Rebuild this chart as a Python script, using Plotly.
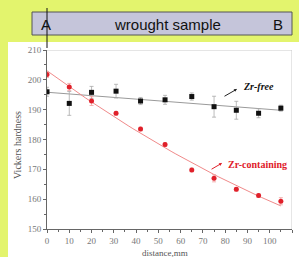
import plotly.graph_objects as go
import numpy as np

# Data
x_free = [0, 10, 20, 31, 42, 53, 65, 75, 85, 95, 105]
y_free = [196.0, 192.1, 195.8, 196.2, 192.9, 193.3, 194.4, 191.0, 189.8, 188.8, 190.5]
e_free = [1.5, 4.0, 2.0, 2.3, 1.2, 1.5, 1.2, 3.5, 3.0, 1.5, 1.0]
x_zr = [0, 10, 20, 31, 42, 53, 65, 75, 85, 95, 105]
y_zr = [201.8, 197.6, 192.9, 188.8, 183.5, 178.3, 169.8, 167.0, 163.3, 161.2, 159.3]
e_zr = [1.0, 1.2, 1.5, 0.6, 0.6, 0.6, 0.6, 1.2, 0.6, 0.6, 1.2]

W, H = 299, 257
L, R, T, B = 47, 7, 50, 28
PW, PH = W - L - R, H - T - B

def px(x):
    return (x - L) / PW

def py(y):
    return (H - B - y) / PH

fx = np.linspace(0, 105, 50)
free_fit = np.polyval(np.polyfit(x_free, y_free, 1), fx)
zr_fit = np.polyval(np.polyfit(x_zr, y_zr, 2), fx)

fig = go.Figure()
fig.add_trace(go.Scatter(x=fx, y=free_fit, mode="lines",
                         line=dict(color="#9a9a9a", width=1), hoverinfo="skip"))
fig.add_trace(go.Scatter(x=fx, y=zr_fit, mode="lines",
                         line=dict(color="#f08a8a", width=1), hoverinfo="skip"))
fig.add_trace(go.Scatter(x=x_free, y=y_free, mode="markers",
                         marker=dict(symbol="square", size=5, color="#111111"),
                         error_y=dict(type="data", array=e_free, color="#aaaaaa",
                                      thickness=0.8, width=2)))
fig.add_trace(go.Scatter(x=x_zr, y=y_zr, mode="markers",
                         marker=dict(symbol="circle", size=5, color="#e0202a"),
                         error_y=dict(type="data", array=e_zr, color="#f0a0a0",
                                      thickness=0.8, width=2)))

shapes = [
    dict(type="rect", xref="paper", yref="paper", x0=px(8), x1=px(299), y0=py(42), y1=py(257),
         fillcolor="white", line=dict(width=0), layer="below"),
    dict(type="rect", xref="paper", yref="paper", x0=px(32), x1=px(292), y0=py(35), y1=py(12),
         fillcolor="#c5c5da", line=dict(color="#555555", width=1), layer="below"),
    dict(type="line", xref="paper", yref="paper", x0=px(47), x1=px(47), y0=py(48), y1=py(8),
         line=dict(color="#111111", width=1)),
    dict(type="line", xref="x", yref="y", x0=0, x1=110, y0=210, y1=210,
         line=dict(color="#cccccc", width=1)),
    dict(type="line", xref="x", yref="y", x0=110, x1=110, y0=150, y1=210,
         line=dict(color="#cccccc", width=1)),
]

annotations = [
    dict(xref="paper", yref="paper", x=px(39), y=py(24), yanchor="middle", text="A",
         showarrow=False, font=dict(family="Liberation Sans", size=15, color="#111111")),
    dict(xref="paper", yref="paper", x=px(167), y=py(24), yanchor="middle", text="wrought sample",
         showarrow=False, font=dict(family="Liberation Sans", size=15, color="#111111")),
    dict(xref="paper", yref="paper", x=px(285), y=py(24), yanchor="middle", text="B",
         showarrow=False, font=dict(family="Liberation Sans", size=15, color="#111111")),
    dict(xref="paper", yref="paper", x=px(17), y=py(145), xanchor="center", yanchor="middle",
         text="Vickers hardness", textangle=-90, showarrow=False,
         font=dict(family="Liberation Serif", size=10, color="#555555")),
    dict(xref="paper", yref="paper", x=px(165), y=py(253), xanchor="center", yanchor="middle",
         text="distance,mm", showarrow=False,
         font=dict(family="Liberation Serif", size=9, color="#555555")),
    dict(x=85.3, y=196.9, ax=-14, ay=8, text="", showarrow=True, arrowhead=2,
         arrowsize=0.6, arrowwidth=1, arrowcolor="#222222"),
    dict(x=87.1, y=197.6, yanchor="middle", text="<b><i>Zr-free</i></b>", showarrow=False,
         xanchor="left", font=dict(family="Liberation Serif", size=10, color="#111111")),
    dict(x=78.6, y=172.1, ax=-12, ay=7, text="", showarrow=True, arrowhead=2,
         arrowsize=0.6, arrowwidth=1, arrowcolor="#e0202a"),
    dict(x=80.4, y=171.7, yanchor="middle", text="<b>Zr-containing</b>", showarrow=False,
         xanchor="left", font=dict(family="Liberation Serif", size=10, color="#e0202a")),
]

axis_common = dict(showgrid=False, zeroline=False, ticks="outside", ticklen=3,
                   tickcolor="#666666", linecolor="#666666", linewidth=1, automargin=False,
                   mirror=False, tickfont=dict(family="Liberation Serif", size=9, color="#777777"))

fig.update_layout(
    width=W, height=H, margin=dict(l=L, r=R, t=T, b=B, autoexpand=False),
    paper_bgcolor="#e3f46d", plot_bgcolor="white", showlegend=False,
    shapes=shapes, annotations=annotations,
    xaxis=dict(range=[0, 110], tickvals=list(range(0, 111, 10)),
               minor=dict(ticks="outside", ticklen=2, dtick=5, tickcolor="#666666"),
               **axis_common),
    yaxis=dict(range=[150, 210], tickvals=list(range(150, 211, 10)),
               minor=dict(ticks="outside", ticklen=2, dtick=5, tickcolor="#666666"),
               **axis_common),
)

fig.write_html("out.html", config={"displayModeBar": False},
               post_script="document.body.style.margin='0';document.body.style.overflow='hidden';")
